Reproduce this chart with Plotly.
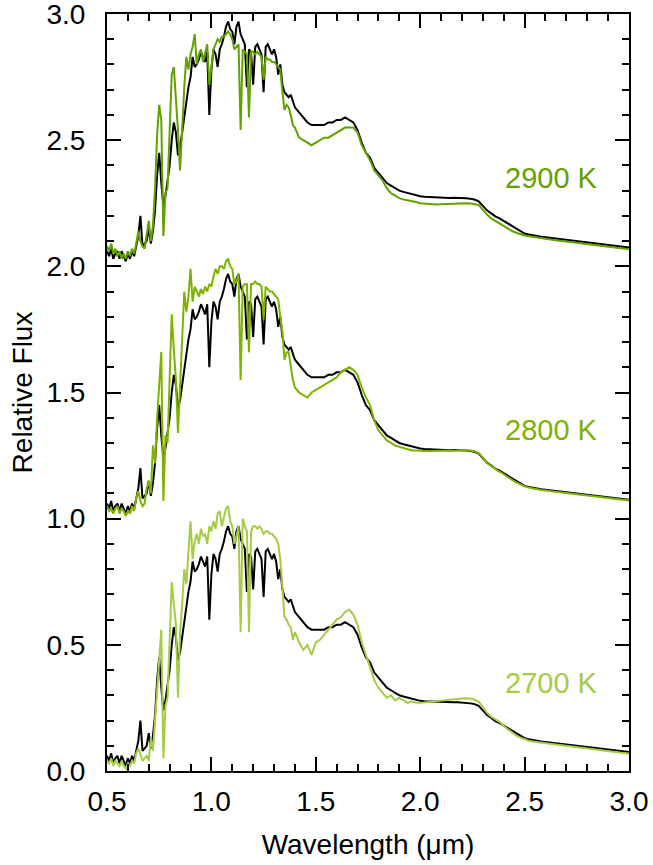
import plotly.graph_objects as go

# wavelength grid (micron)
WL = [0.50,0.51,0.52,0.53,0.54,0.55,0.56,0.57,0.58,0.59,
      0.60,0.61,0.62,0.63,0.64,0.65,0.66,0.67,0.68,0.69,
      0.70,0.71,0.72,0.73,0.74,0.75,0.76,0.77,0.78,0.79,
      0.80,0.81,0.82,0.83,0.84,0.85,0.86,0.87,0.88,0.89,
      0.90,0.91,0.92,0.93,0.94,0.95,0.96,0.97,0.98,0.99,
      1.00,1.01,1.02,1.03,1.04,1.05,1.06,1.07,1.08,1.09,
      1.10,1.11,1.12,1.13,1.14,1.15,1.16,1.17,1.18,1.19,
      1.20,1.21,1.22,1.23,1.24,1.25,1.26,1.27,1.28,1.29,
      1.30,1.31,1.32,1.33,1.34,1.35,1.36,1.37,1.38,1.39,1.40,
      1.42,1.44,1.46,1.48,1.50,1.52,1.54,1.56,1.58,1.60,
      1.62,1.64,1.66,1.68,1.70,1.72,1.74,1.76,1.78,1.80,
      1.82,1.84,1.86,1.88,1.90,1.92,1.94,1.96,1.98,2.00,
      2.02,2.04,2.06,2.08,2.10,2.12,2.14,2.16,2.18,2.20,
      2.22,2.24,2.26,2.28,2.30,2.32,2.34,2.36,2.38,2.40,
      2.42,2.44,2.46,2.48,2.50,2.52,2.54,2.56,2.58,2.60,
      2.62,2.64,2.66,2.68,2.70,2.72,2.74,2.76,2.78,2.80,
      2.82,2.84,2.86,2.88,2.90,2.92,2.94,2.96,2.98,3.00]

# observed spectrum (black)
OBS = [0.06,0.04,0.07,0.03,0.05,0.06,0.03,0.06,0.04,0.02,
       0.05,0.03,0.06,0.04,0.08,0.12,0.20,0.08,0.09,0.10,
       0.15,0.09,0.14,0.22,0.36,0.45,0.33,0.24,0.28,0.34,
       0.40,0.50,0.57,0.53,0.44,0.47,0.53,0.60,0.66,0.71,
       0.75,0.83,0.79,0.80,0.82,0.85,0.83,0.81,0.85,0.60,
       0.78,0.86,0.84,0.79,0.86,0.88,0.91,0.95,0.97,0.94,
       0.93,0.88,0.95,0.97,0.92,0.90,0.88,0.71,0.86,0.85,
       0.72,0.87,0.88,0.86,0.84,0.69,0.87,0.88,0.86,0.84,
       0.86,0.83,0.76,0.80,0.72,0.69,0.68,0.67,0.68,0.65,0.63,
       0.61,0.59,0.57,0.56,0.56,0.56,0.56,0.57,0.57,0.58,
       0.58,0.59,0.58,0.57,0.54,0.49,0.45,0.43,0.39,0.37,
       0.35,0.33,0.32,0.31,0.30,0.295,0.29,0.285,0.28,0.278,
       0.276,0.275,0.274,0.273,0.272,0.272,0.271,0.272,0.272,0.271,
       0.27,0.268,0.265,0.258,0.24,0.222,0.21,0.198,0.19,0.18,
       0.168,0.158,0.148,0.138,0.13,0.126,0.122,0.119,0.117,0.115,
       0.113,0.111,0.109,0.107,0.105,0.103,0.101,0.099,0.097,0.095,
       0.093,0.091,0.089,0.087,0.085,0.083,0.081,0.079,0.077,0.075]

# model spectra
M2700 = [0.04,0.03,0.05,0.02,0.04,0.03,0.02,0.04,0.02,0.01,
         0.03,0.02,0.04,0.03,0.07,0.09,0.06,0.04,0.05,0.06,
         0.04,0.13,0.08,0.20,0.34,0.47,0.56,0.05,0.26,0.29,
         0.52,0.75,0.66,0.58,0.29,0.55,0.66,0.80,0.74,0.85,
         0.99,0.84,0.91,0.94,0.90,0.96,0.93,0.94,0.90,0.97,
         0.95,0.99,0.96,1.02,1.03,0.97,1.01,1.04,1.05,0.99,
         0.97,0.90,0.93,0.97,0.55,1.00,0.97,0.95,0.55,0.95,
         0.97,0.97,0.96,0.97,0.96,0.94,0.95,0.95,0.94,0.94,
         0.93,0.92,0.90,0.84,0.73,0.61,0.60,0.58,0.57,0.52,0.55,
         0.51,0.48,0.50,0.46,0.51,0.52,0.54,0.56,0.58,0.60,
         0.61,0.63,0.64,0.62,0.58,0.51,0.46,0.41,0.36,0.33,
         0.31,0.29,0.30,0.28,0.29,0.28,0.27,0.275,0.27,0.27,
         0.272,0.274,0.275,0.277,0.279,0.28,0.281,0.283,0.285,0.287,
         0.288,0.287,0.283,0.275,0.255,0.23,0.215,0.205,0.195,0.178,
         0.165,0.152,0.14,0.132,0.125,0.12,0.117,0.114,0.112,0.11,
         0.108,0.106,0.104,0.102,0.10,0.098,0.096,0.094,0.092,0.09,
         0.088,0.086,0.084,0.082,0.08,0.078,0.076,0.074,0.072,0.068]

M2800 = [0.05,0.03,0.04,0.02,0.04,0.05,0.02,0.04,0.03,0.01,
         0.03,0.02,0.05,0.03,0.08,0.11,0.07,0.05,0.06,0.12,
         0.15,0.10,0.29,0.22,0.40,0.55,0.66,0.07,0.33,0.30,
         0.60,0.81,0.67,0.55,0.34,0.55,0.73,0.90,0.82,0.88,
         0.99,0.86,0.92,0.90,0.88,0.91,0.89,0.92,0.90,0.93,
         0.92,0.96,0.99,0.97,1.00,1.00,0.99,1.02,1.03,1.00,
         0.99,0.93,0.94,0.97,0.55,0.92,0.93,0.93,0.66,0.93,
         0.93,0.94,0.93,0.93,0.92,0.79,0.92,0.91,0.90,0.90,
         0.89,0.88,0.87,0.80,0.74,0.63,0.66,0.66,0.60,0.55,0.52,
         0.50,0.49,0.48,0.50,0.51,0.52,0.53,0.54,0.55,0.56,
         0.58,0.59,0.60,0.59,0.57,0.52,0.48,0.45,0.39,0.35,
         0.33,0.31,0.30,0.29,0.285,0.28,0.275,0.27,0.27,0.268,
         0.268,0.268,0.268,0.268,0.268,0.269,0.27,0.27,0.27,0.271,
         0.271,0.27,0.267,0.26,0.242,0.222,0.208,0.196,0.186,0.176,
         0.164,0.154,0.144,0.135,0.128,0.123,0.119,0.116,0.114,0.112,
         0.11,0.108,0.106,0.104,0.102,0.10,0.098,0.096,0.094,0.092,
         0.09,0.088,0.086,0.084,0.082,0.08,0.078,0.076,0.074,0.072]

M2900 = [0.08,0.06,0.09,0.05,0.07,0.04,0.06,0.03,0.05,0.03,
         0.06,0.04,0.07,0.05,0.09,0.14,0.10,0.08,0.07,0.13,
         0.18,0.10,0.16,0.31,0.52,0.64,0.58,0.12,0.29,0.31,
         0.55,0.76,0.79,0.67,0.54,0.38,0.58,0.71,0.83,0.78,
         0.84,0.87,0.92,0.80,0.84,0.86,0.81,0.85,0.88,0.72,
         0.80,0.86,0.88,0.90,0.89,0.91,0.91,0.92,0.93,0.92,
         0.90,0.86,0.87,0.88,0.54,0.86,0.85,0.84,0.59,0.85,
         0.85,0.84,0.85,0.84,0.83,0.74,0.83,0.82,0.82,0.81,
         0.81,0.80,0.79,0.78,0.69,0.62,0.64,0.63,0.60,0.56,0.55,
         0.51,0.50,0.49,0.48,0.49,0.50,0.51,0.51,0.52,0.53,
         0.54,0.55,0.55,0.55,0.53,0.48,0.45,0.42,0.38,0.36,
         0.34,0.31,0.29,0.28,0.27,0.265,0.262,0.26,0.255,0.25,
         0.248,0.246,0.245,0.245,0.246,0.247,0.248,0.249,0.25,0.25,
         0.25,0.249,0.247,0.243,0.225,0.205,0.19,0.18,0.17,0.16,
         0.148,0.14,0.133,0.127,0.122,0.119,0.116,0.113,0.11,0.108,
         0.106,0.104,0.102,0.10,0.098,0.096,0.094,0.092,0.09,0.088,
         0.086,0.084,0.082,0.08,0.078,0.076,0.074,0.072,0.07,0.068]

LABELS = ["2700 K", "2800 K", "2900 K"]
OFFSETS = [0.0, 1.0, 2.0]
MODELS = [M2700, M2800, M2900]
COLORS = ["#A6CB45", "#7FB200", "#63A000"]

FONT = "Liberation Sans, Arial, Helvetica, sans-serif"

fig = go.Figure()
for model, off, lab, col in zip(MODELS, OFFSETS, LABELS, COLORS):
    fig.add_trace(go.Scatter(x=WL, y=[v + off for v in OBS], mode="lines",
                             line=dict(color="black", width=2), showlegend=False))
    fig.add_trace(go.Scatter(x=WL, y=[v + off for v in model], mode="lines",
                             line=dict(color=col, width=2), showlegend=False))
    fig.add_annotation(x=2.63, y=off + 0.35, text=lab, showarrow=False,
                       font=dict(size=29, color=col, family=FONT),
                       xanchor="center", yanchor="middle")

axis_common = dict(showgrid=False, zeroline=False, showline=True, linecolor="black",
                   linewidth=2, mirror="allticks", ticks="inside", ticklen=14,
                   tickwidth=2, tickcolor="black", tickformat=".1f", automargin=False,
                   ticklabeloverflow="allow",
                   tickfont=dict(size=28, color="black", family=FONT))

fig.update_xaxes(range=[0.5, 3.0], dtick=0.5, tick0=0.5, ticklabelstandoff=4,
                 minor=dict(dtick=0.1, ticks="inside", ticklen=7, tickwidth=2, tickcolor="black"),
                 title=dict(text="Wavelength (μm)", standoff=19,
                            font=dict(size=28, color="black", family=FONT)),
                 **axis_common)
fig.update_yaxes(range=[0.0, 3.0], dtick=0.5, tick0=0.0, ticklabelstandoff=14,
                 minor=dict(dtick=0.1, ticks="inside", ticklen=7, tickwidth=2, tickcolor="black"),
                 title=dict(text="Relative Flux", standoff=6,
                            font=dict(size=28, color="black", family=FONT)),
                 **axis_common)

fig.update_layout(width=653, height=865, margin=dict(l=107, r=24, t=14, b=94),
                  plot_bgcolor="white", paper_bgcolor="white", hovermode=False)

fig.write_html("out.html", config={"displayModeBar": False},
               post_script="document.body.style.margin='0';document.body.style.padding='0';")
